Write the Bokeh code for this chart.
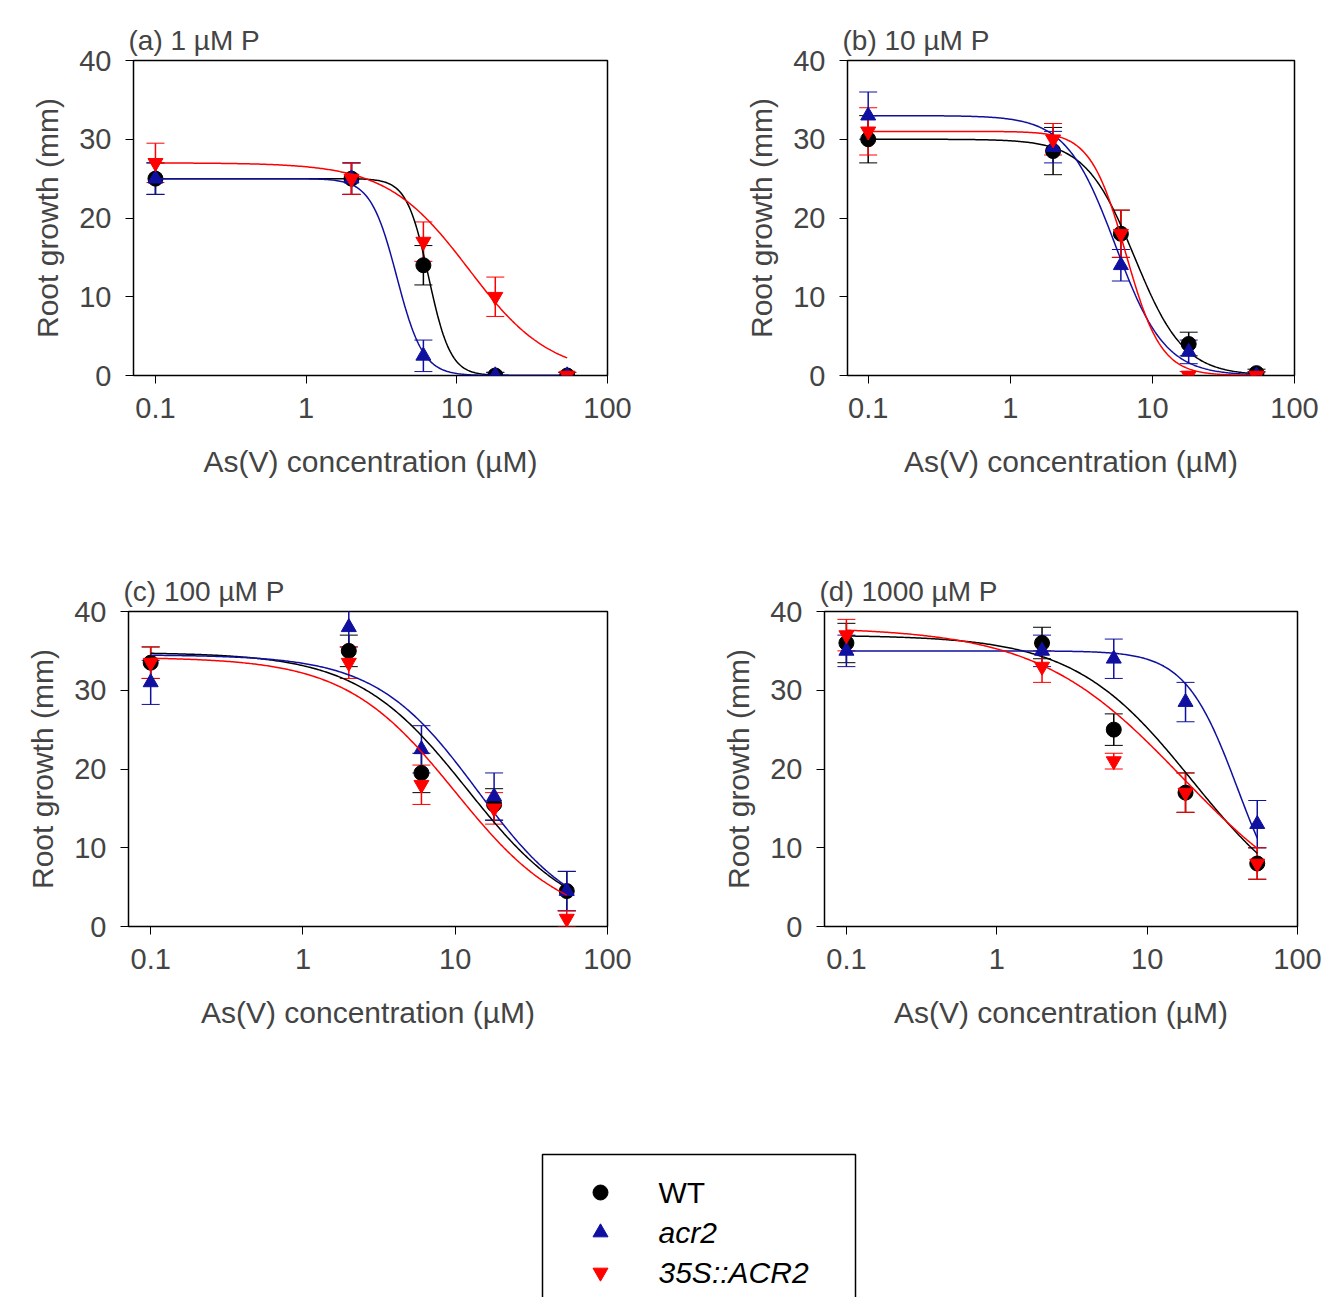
import numpy as np
from bokeh.plotting import figure
from bokeh.layouts import column, row
from bokeh.models import Range1d, Whisker, ColumnDataSource, FixedTicker
from bokeh.core.properties import value
from bokeh.embed import file_html
from bokeh.resources import INLINE

conc = [0.1, 2, 6, 18, 54]
titles = ["(a) 1 \u00b5M P", "(b) 10 \u00b5M P", "(c) 100 \u00b5M P", "(d) 1000 \u00b5M P"]

# measured means / errors per panel: WT, acr2, 35S::ACR2
wt = [[25, 25, 14, 0, 0], [30, 28.5, 18, 4, 0.3], [33.5, 35, 19.5, 15.5, 4.5], [36, 36, 25, 17, 8]]
wt_err = [[2, 2, 2.5, 0.4, 0.4], [3, 3, 3, 1.5, 0.5], [2, 2, 2.5, 2, 2.5], [2.5, 2, 2, 2.5, 2]]
acr2 = [[25, 25, 2.5, 0, 0], [33, 29, 14, 3, 0], [31, 38, 22.5, 16.5, 4.5], [35, 35, 34, 28.5, 13]]
acr2_err = [[2, 2, 2, 0.4, 0.4], [3, 2, 2, 1.5, 0.5], [2.8, 2.5, 3, 3, 2.5], [2, 2, 2.5, 2.5, 3]]
ox = [[27, 25, 17, 10, 0], [31, 30, 18, 0, 0], [33.5, 33.5, 18, 15, 1], [37, 33, 21, 17, 8]]
ox_err = [[2.5, 2, 2.5, 2.5, 0.4], [3, 2, 3, 0.5, 0.4], [2, 2, 2.5, 2, 1], [2, 2, 1, 2.5, 2]]

# fitted sigmoid parameters (top, EC50, slope)
wt_fit = [(25, 6.5, 6), (30, 7.5, 2.5), (34.8, 12, 1.2), (37, 20, 1.1)]
acr2_fit = [(25, 4, 5), (33, 5.5, 2.5), (34.5, 14, 1.3), (35, 40, 2.5)]
ox_fit = [(27, 12, 1.6), (31, 6.5, 3.5), (34.2, 10, 1.2), (38, 17, 0.9)]

FONT = "Liberation Sans"
xs = np.logspace(-1, np.log10(54), 300)


def panel(i, left, fw, top):
    p = figure(width=667, height=555, x_axis_type="log", output_backend="svg",
               toolbar_location=None, x_range=Range1d(0.0715, 100), y_range=Range1d(0, 40),
               min_border_left=left, min_border_right=667 - left - fw,
               min_border_top=top, min_border_bottom=555 - top - 315)
    p.frame_width = fw
    p.frame_height = 315
    p.grid.visible = False
    p.outline_line_color = "black"
    p.outline_line_width = 1.5
    p.title.text = titles[i]
    p.title.text_font = FONT
    p.title.text_font_size = "28px"
    p.title.text_font_style = "normal"
    p.title.offset = -5
    p.xaxis.ticker = FixedTicker(ticks=[0.1, 1, 10, 100])
    p.xaxis.major_label_overrides = {0.1: "0.1", 1: "1", 10: "10", 100: "100"}
    p.yaxis.ticker = FixedTicker(ticks=[0, 10, 20, 30, 40])
    p.xaxis.axis_label = "As(V) concentration (\u00b5M)"
    p.yaxis.axis_label = "Root growth (mm)"
    for ax in (p.xaxis, p.yaxis):
        ax.axis_label_text_font = FONT
        ax.axis_label_text_font_size = "30px"
        ax.axis_label_text_font_style = "normal"
        ax.major_label_text_font = FONT
        ax.major_label_text_font_size = "29px"
        ax.major_tick_out = 8
        ax.major_tick_in = 0
        ax.minor_tick_out = 0
        ax.minor_tick_in = 0
        ax.axis_line_color = None
        ax.major_label_standoff = 14
    p.xaxis.axis_label_standoff = 24
    p.yaxis.axis_label_standoff = 12

    series = [(wt[i], wt_err[i], wt_fit[i], "black", "circle"),
              (acr2[i], acr2_err[i], acr2_fit[i], "#1010a0", "triangle"),
              (ox[i], ox_err[i], ox_fit[i], "red", "inverted_triangle")]
    for y, e, (top_v, ec, h), col, mk in series:
        p.line(xs, top_v / (1 + (xs / ec) ** h), color=col, line_width=1.5)
        src = ColumnDataSource(dict(x=conc, y=y, lo=[a - b for a, b in zip(y, e)],
                                    hi=[a + b for a, b in zip(y, e)]))
        w = Whisker(base="x", lower="lo", upper="hi", source=src, line_color=col, line_width=1.5)
        w.upper_head.line_color = col
        w.lower_head.line_color = col
        w.upper_head.size = 18
        w.lower_head.size = 18
        p.add_layout(w)
        p.scatter("x", "y", source=src, marker=mk, size=15, color=col)
    return p


pa = panel(0, 133, 474, 53)
pb = panel(1, 180, 447, 60)
pc = panel(2, 128, 479, 56)
pd = panel(3, 157, 473, 56)

labels = ["WT", "acr2", "35S::ACR2"]
pl = figure(width=1335, height=187, output_backend="svg", toolbar_location=None,
            x_range=Range1d(0, 1335), y_range=Range1d(187, 0), min_border=0)
pl.axis.visible = False
pl.grid.visible = False
pl.outline_line_color = None
pl.quad(left=[542], right=[855], top=[44], bottom=[190], fill_color=None, line_color="black", line_width=1.5)
pl.scatter([600], [82], marker="circle", size=15, color="black")
pl.scatter([600], [122], marker="triangle", size=15, color="#1010a0")
pl.scatter([600], [162], marker="inverted_triangle", size=15, color="red")
pl.text([658], [82], text=[labels[0]], text_font=value(FONT), text_font_size="30px", text_baseline="middle")
pl.text([658, 658], [122, 162], text=labels[1:], text_font=value(FONT), text_font_size="30px",
        text_font_style="italic", text_baseline="middle")

layout = column(row(pa, pb), row(pc, pd), pl)
open("out.html", "w").write(file_html(layout, INLINE))
